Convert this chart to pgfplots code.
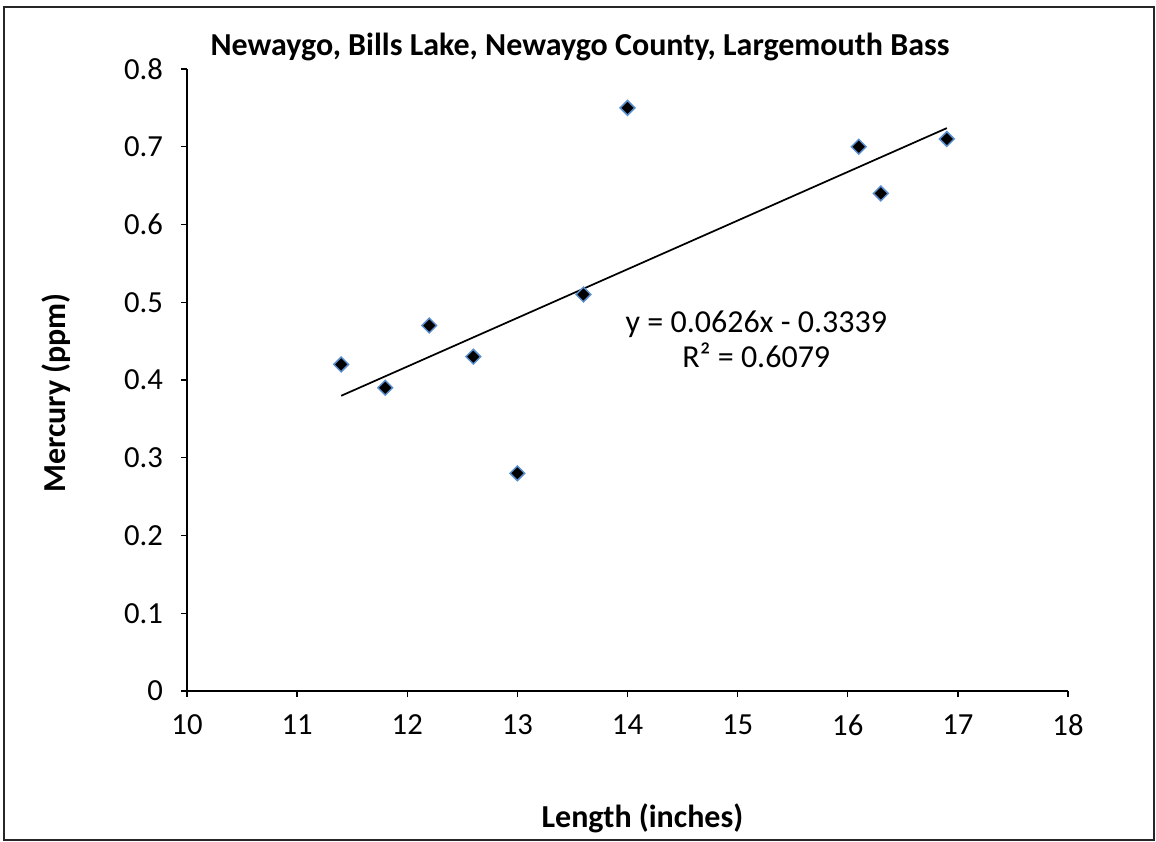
\documentclass[border=0pt]{standalone}
\usepackage{pgfplots}
\pgfplotsset{compat=1.18}
\usepackage{fontspec}
\setmainfont{Carlito}
\definecolor{mk}{HTML}{5B8FCF}
\begin{document}
\begin{tikzpicture}[x=1pt,y=1pt]
\path[use as bounding box] (-140.25,-113.25) rectangle (726.75,518.25);
\draw[line width=1.1pt,black!85] (-137.25,-111.75) rectangle (725.25,513);
\begin{axis}[
  at={(0,0)}, anchor=south west,
  scale only axis, width=660.75pt, height=466.5pt,
  xmin=10, xmax=18, ymin=0, ymax=0.8,
  xtick={10,11,...,18},
  ytick={0,0.1,...,0.8},
  axis x line*=bottom, axis y line*=left,
  axis line style={line width=1.1pt,-},
  tick style={line width=1.1pt,black},
  tick align=outside, major tick length=4.5pt,
  every tick label/.style={font=\fontsize{23}{26}\selectfont},
  /pgf/number format/assume math mode=true,
  xticklabel style={yshift=-10pt},
  yticklabel style={xshift=-10pt},
  yticklabel={\pgfmathprintnumber[fixed,precision=1]{\tick}},
  clip=false,
]
\addplot[only marks, mark=square*, mark size=3.9pt,
  mark options={rotate=45, fill=black, draw=mk, line width=1.1pt}]
  coordinates {
  (11.4,0.42) (11.8,0.39) (12.2,0.47) (12.6,0.43) (13,0.28)
  (13.6,0.51) (14,0.75) (16.1,0.70) (16.3,0.64) (16.9,0.71)
  };
\addplot[black, line width=1.3pt] coordinates {(11.4,0.3797) (16.9,0.7240)};
\node[align=center, font=\fontsize{24}{26}\selectfont] at (axis cs:15.17,0.452)
  {y = 0.0626x - 0.3339\\R² = 0.6079};
\end{axis}
\node[font=\fontsize{24}{26}\selectfont\bfseries] at (294.75,483) {Newaygo, Bills Lake, Newaygo County, Largemouth Bass};
\node[font=\fontsize{24}{26}\selectfont\bfseries] at (341.6,-95.25) {Length (inches)};
\node[font=\fontsize{24}{26}\selectfont\bfseries, rotate=90] at (-98.25,223.5) {Mercury (ppm)};
\end{tikzpicture}
\end{document}
